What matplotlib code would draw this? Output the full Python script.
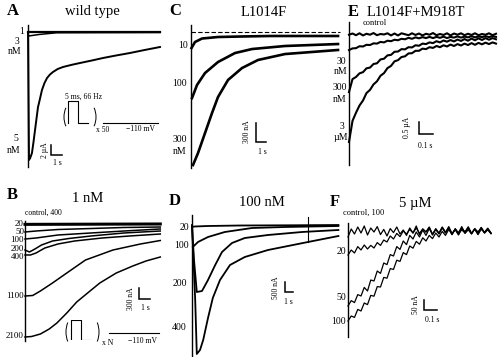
import numpy as np
import matplotlib
matplotlib.use("Agg")
import matplotlib.pyplot as plt
from matplotlib.patches import Arc

plt.rcParams['font.family'] = ['Liberation Serif', 'DejaVu Serif']

# ---------------- data (time in s, current in uA / nA) ----------------
# Panel A: wild type (uA)
a_t_1 = [0, 12.0]
a_i_1 = [0, 0]
a_t_3 = [0, 0.05, 1.0, 2.6, 12.0]
a_i_3 = [0, -0.8, -0.5, -0.15, -0.1]
a_t_5 = [0, 0.09, 0.2, 0.36, 0.5, 0.64, 0.78, 0.91, 1.0, 1.27, 1.5, 1.73, 2.0, 2.27,
         2.7, 3.18, 4.0, 4.73, 5.8, 6.82, 8.0, 9.27, 10.6, 12.0]
a_i_5 = [0, -25.6, -25.2, -24.2, -22.0, -19.6, -17.2, -15.0, -14.2, -11.6, -10.2, -9.2,
         -8.5, -8.0, -7.4, -7.0, -6.55, -6.2, -5.7, -5.2, -4.7, -4.2, -3.6, -3.0]

# Panel B: 1 nM, number of pulses (nA)
b_t_20 = [0, 12.3]
b_i_20 = [-10, 0]
b_t_50 = [0, 1, 3, 6, 9, 12.3]
b_i_50 = [-218, -191, -150, -123, -95, -82]
b_t_100 = [0, 1, 3, 6, 9, 12.3]
b_i_100 = [-409, -382, -300, -245, -191, -136]
b_t_200 = [0, 0.4, 0.9, 1.5, 2.5, 4, 6, 9, 12.3]
b_i_200 = [-709, -764, -682, -573, -464, -395, -327, -245, -191]
b_t_400 = [0, 0.5, 1.0, 1.8, 3, 4.5, 7, 9.5, 12.3]
b_i_400 = [-845, -845, -791, -655, -545, -464, -382, -327, -273]
b_t_1100 = [0, 0.7, 1.4, 2.5, 3.8, 5.5, 8, 10.5, 12.3]
b_i_1100 = [-1964, -1950, -1827, -1609, -1336, -982, -709, -545, -450]
b_t_2100 = [0, 0.6, 1.4, 2.2, 2.9, 3.8, 4.7, 5.8, 6.8, 8.3, 9.8, 11, 12.3]
b_i_2100 = [-3082, -3068, -3000, -2864, -2700, -2427, -2127, -1855, -1609, -1336,
            -1145, -1009, -900]

# Panel C: L1014F (nA)
c_t_10 = [0.05, 0.4, 1.1, 2.7, 5, 8, 11, 14.7]
c_i_10 = [-253, -158, -103, -79, -71, -63, -63, -63]
c_t_100 = [0.1, 0.6, 1.4, 2.7, 4.4, 6.1, 9.4, 14.7]
c_i_100 = [-1043, -837, -648, -474, -332, -269, -221, -190]
c_t_300 = [0.2, 0.7, 1.4, 2.1, 2.7, 3.7, 5.1, 6.7, 9.4, 14.7]
c_i_300 = [-2101, -1912, -1596, -1280, -1027, -758, -569, -442, -348, -284]

# Panel D: 100 nM (nA)
d_t_20 = [0, 0.3, 2, 6, 12, 18.3]
d_i_20 = [-100, -75, -50, -25, -15, 0]
d_t_100 = [0.1, 0.75, 2, 4.1, 7.5, 11.6, 18.3]
d_i_100 = [-1100, -850, -600, -350, -150, -100, -50]
d_t_200 = [0, 0.25, 0.6, 1.25, 2, 2.9, 3.75, 5, 6.6, 9.5, 13.75, 18.3]
d_i_200 = [-50, -1750, -3350, -3300, -2750, -2000, -1350, -900, -650, -500, -350, -250]
d_t_400 = [0, 0.4, 0.6, 1.0, 1.4, 2.0, 2.6, 3.5, 4.75, 6.6, 9.5, 14.5, 18.3]
d_i_400 = [0, -3750, -6450, -6250, -5750, -4650, -3650, -2750, -2000, -1600, -1250,
           -850, -550]
d_marker_t = 14.5
d_marker_i = [400, -850]

# Panel E: L1014F+M918T (uA), sampled every 0.025 s
e_dt = 0.025
e_i_ctrl = [-0.03, 0.02, -0.05, 0.03, -0.06, 0.01, -0.03, 0.04, -0.05, 0.0, -0.02, 0.03,
            -0.06, 0.02, -0.06, 0.03, -0.01, -0.05, 0.03, -0.04, 0.02, -0.06, 0.01, -0.03,
            0.04, -0.05, 0.0, -0.04, 0.03, -0.06, 0.02, -0.03, 0.03, -0.05, 0.01, -0.04,
            0.03, -0.05, 0.0, -0.03, 0.03, -0.05, 0.01]
e_i_30 = [-0.67, -0.6, -0.59, -0.51, -0.52, -0.45, -0.46, -0.39, -0.4, -0.33, -0.35,
          -0.28, -0.3, -0.24, -0.26, -0.2, -0.22, -0.16, -0.2, -0.14, -0.18, -0.13, -0.17,
          -0.12, -0.17, -0.12, -0.16, -0.11, -0.17, -0.12, -0.15, -0.1, -0.15, -0.11,
          -0.14, -0.09, -0.14, -0.1, -0.13, -0.09, -0.13, -0.09, -0.12]
e_i_300 = [-2.42, -1.88, -1.79, -1.64, -1.59, -1.43, -1.4, -1.25, -1.22, -1.06, -1.03,
           -0.89, -0.87, -0.74, -0.73, -0.63, -0.64, -0.55, -0.56, -0.47, -0.49, -0.4,
           -0.42, -0.35, -0.38, -0.3, -0.35, -0.27, -0.32, -0.25, -0.31, -0.23, -0.29,
           -0.21, -0.28, -0.19, -0.26, -0.18, -0.25, -0.17, -0.24, -0.17, -0.22]
e_i_3000 = [-4.5, -3.62, -3.28, -2.98, -2.77, -2.46, -2.33, -2.1, -1.97, -1.74, -1.63,
            -1.42, -1.33, -1.14, -1.09, -0.96, -0.93, -0.81, -0.8, -0.7, -0.7, -0.61,
            -0.63, -0.55, -0.58, -0.5, -0.55, -0.47, -0.52, -0.44, -0.5, -0.42, -0.48,
            -0.4, -0.46, -0.38, -0.45, -0.37, -0.43, -0.36, -0.42, -0.35, -0.4]

# Panel F: 5 uM (nA), sampled every 0.025 s
f_dt = 0.025
f_i_ctrl = [-30, 10, -15, 20, -10, 25, -20, 15, -5, 22, -18, 8, -25, 12, -8, 20, -15, 5,
            -22, 15, -10, 25, -18, 10, -5, 20, -20, 12, -12, 18, -8, 22, -15, 6, -20, 14,
            -6, 20, -14, 10, -18, 16, -8, 12, -10]
f_i_20 = [-120, -95, -110, -78, -95, -70, -90, -72, -85, -58, -72, -45, -55, -25, -40, -12,
          -28, 0, -15, 8, -10, 15, -12, 10, -5, 18, -15, 8, -10, 20, -6, 15, -18, 10, -8,
          22, -12, 6, -15, 12, -5, 18, -10, 8, -12]
f_i_50 = [-375, -348, -358, -318, -325, -282, -300, -245, -250, -200, -212, -160, -168,
          -118, -125, -78, -92, -50, -68, -22, -40, -5, -30, 5, -22, 12, -18, 8, -15, 15,
          -10, 18, -12, 8, -16, 14, -5, 20, -12, 10, -8, 16, -10, 6, -14]
f_i_100 = [-450, -425, -432, -392, -400, -360, -368, -322, -326, -278, -280, -232, -236,
           -188, -192, -146, -152, -108, -118, -75, -86, -52, -66, -34, -50, -22, -38, -10,
           -30, -2, -22, 8, -18, 12, -15, 6, -10, 16, -12, 10, -16, 8, -6, 14, -10]

# stimulus schematic (ms, mV)
pulse_t = [0, 0, 5, 5, 10]
pulse_v = [-110, -10, -10, -110, -110]
hold_t = [17.5, 45]

# ---------------- figure ----------------
W, H = 500, 357
fig = plt.figure(figsize=(5.0, 3.57), dpi=100)
fig.patch.set_facecolor('white')


def panel(rect, x0, px_t, y0, px_i):
    l, t, r, b = rect
    ax = fig.add_axes([l / W, 1 - b / H, (r - l) / W, (b - t) / H])
    ax.set_xlim((l - x0) / px_t, (r - x0) / px_t)
    ax.set_ylim(-(b - y0) / px_i, -(t - y0) / px_i)
    ax.axis('off')
    ax.p2d = lambda x, y: ((x - x0) / px_t, -(y - y0) / px_i)
    return ax


def T(x, y, s, size=7, ha='center', va='center', **kw):
    fig.text(x / W, 1 - y / H, s, fontsize=size, ha=ha, va=va, **kw)


def paren(xc, yc, hw, hh, left=True):
    th = (115, 245) if left else (-65, 65)
    fig.add_artist(Arc((xc / W, 1 - yc / H), 2 * hw / W, 2 * hh / H, theta1=th[0],
                       theta2=th[1], transform=fig.transFigure, color='black', lw=0.7))


def vaxis(ax, ytop, ybot):
    _, i1 = ax.p2d(0, ytop)
    _, i2 = ax.p2d(0, ybot)
    ax.plot([0, 0], [i1, i2], color='black', lw=1.0)


def scalebar(ax, cx, cy, dt, di, lab_v, lab_h, vx, vy, hx, hy):
    t0, i0 = ax.p2d(cx, cy)
    ax.plot([t0, t0, t0 + dt], [i0 + di, i0, i0], color='black', lw=1.1,
            solid_joinstyle='miter')
    T(vx, vy, lab_v, size=5.5, rotation=90)
    T(hx, hy, lab_h, size=5.5)


K = dict(color='black', lw=1.1)

# ---- Panel A ----
axA = panel((22, 20, 165, 170), 28, 11, 32, 5)
vaxis(axA, 25, 167)
axA.plot(a_t_1, a_i_1, color='black', lw=1.6)
axA.plot(a_t_3, a_i_3, **K)
axA.plot(a_t_5, a_i_5, color='black', lw=1.4)
scalebar(axA, 51, 155, 1, 2, '2 µA', '1 s', 45, 150, 57, 163)
T(13, 11, 'A', size=12, weight='bold')
T(92, 11, 'wild type', size=10.5)
T(24, 31, '1', ha='right')
T(17, 41, '3')
T(15, 52, 'nM')
T(16, 139, '5')
T(14, 150, 'nM')
axAi = fig.add_axes([66 / W, 1 - 126 / H, (160 - 66) / W, (126 - 100) / H])
axAi.set_xlim(-1, 46)
axAi.set_ylim(-122, -4)
axAi.axis('off')
axAi.plot(pulse_t, pulse_v, color='black', lw=0.8)
axAi.plot(hold_t, [-110, -110], color='black', lw=0.8)
T(84, 97, '5 ms, 66 Hz', size=5.5)
paren(72, 117, 8, 14, True)
paren(88, 117, 8, 14, False)
T(103, 130, 'x 50', size=5.5)
T(141, 129, '\u2212110 mV', size=5.5)

# ---- Panel B ----
axB = panel((20, 212, 165, 345), 25, 11, 224, 11 / 300)
vaxis(axB, 221, 341)
axB.plot(b_t_20, b_i_20, color='black', lw=2.2)
for tt, ii in [(b_t_50, b_i_50), (b_t_100, b_i_100), (b_t_200, b_i_200),
               (b_t_400, b_i_400), (b_t_1100, b_i_1100), (b_t_2100, b_i_2100)]:
    axB.plot(tt, ii, **K)
scalebar(axB, 139, 299, 1, 300, '300 nA', '1 s', 131, 299, 145, 308)
T(12, 195, 'B', size=12, weight='bold')
T(88, 198, '1 nM', size=10.5)
T(25, 213, 'control, 400', size=5.5, ha='left')
for lab, yy in [('20', 224), ('50', 232), ('100', 240), ('200', 249), ('400', 257),
                ('1100', 296), ('2100', 336)]:
    T(24, yy, lab, size=6.5, ha='right')
axBi = fig.add_axes([69 / W, 1 - 340 / H, (161 - 69) / W, (340 - 320) / H])
axBi.set_xlim(-1, 46)
axBi.set_ylim(-112, -8)
axBi.axis('off')
axBi.plot(pulse_t, pulse_v, color='black', lw=0.8)
axBi.plot([19.5, 45], [-76, -76], color='black', lw=0.8)
paren(74, 332, 8, 15, True)
paren(91, 332, 8, 15, False)
T(108, 343, 'x N', size=5.5)
T(142, 341, '\u2212110 mV', size=5.5)

# ---- Panel C ----
axC = panel((186, 20, 345, 172), 191, 10, 32, 19 / 300)
vaxis(axC, 25, 168)
axC.plot([0, 14.9], [0, 0], color='black', lw=0.8, ls=(0, (4, 2)))
for tt, ii in [(c_t_10, c_i_10), (c_t_100, c_i_100), (c_t_300, c_i_300)]:
    axC.plot(tt, ii, color='black', lw=1.9)
scalebar(axC, 256, 142, 1, 300, '300 nA', '1 s', 247, 132, 262, 152)
T(175, 11, 'C', size=12, weight='bold')
T(264, 12, 'L1014F', size=10.5)
T(188, 46, '10', ha='right')
T(187, 83, '100', ha='right')
T(180, 140, '300')
T(180, 151, 'nM')

# ---- Panel D ----
axD = panel((186, 210, 345, 357), 192, 8, 225, 10 / 500)
vaxis(axD, 215, 357)
for tt, ii in [(d_t_20, d_i_20), (d_t_100, d_i_100), (d_t_200, d_i_200), (d_t_400, d_i_400)]:
    axD.plot(tt, ii, color='black', lw=1.3)
axD.plot([d_marker_t, d_marker_t], d_marker_i, color='black', lw=0.8)
scalebar(axD, 285, 292, 1, 500, '500 nA', '1 s', 276, 288, 288, 302)
T(175, 201, 'D', size=12, weight='bold')
T(262, 202, '100 nM', size=10.5)
T(189, 227, '20', ha='right')
T(189, 246, '100', ha='right')
T(187, 284, '200', ha='right')
T(186, 327, '400', ha='right')

# ---- Panel E ----
axE = panel((346, 18, 500, 170), 349, 140, 34, 24)
vaxis(axE, 22, 165)
for ii in [e_i_ctrl, e_i_30, e_i_300, e_i_3000]:
    tt = np.arange(len(ii)) * e_dt
    axE.plot(tt, ii, color='black', lw=1.5)
scalebar(axE, 419, 134, 0.1, 0.5, '0.5 µA', '0.1 s', 407, 127, 425, 146)
T(353, 12, 'E', size=12, weight='bold')
T(416, 12, 'L1014F+M918T', size=10.5)
T(375, 23, 'control', size=6)
T(341, 62, '30')
T(341, 72, 'nM')
T(340, 88, '300')
T(340, 100, 'nM')
T(342, 126, '3')
T(341, 137, 'µM')

# ---- Panel F ----
axF = panel((345, 215, 500, 345), 348, 130, 231, 0.2)
vaxis(axF, 223, 337)
for ii in [f_i_ctrl, f_i_20, f_i_50, f_i_100]:
    tt = np.arange(len(ii)) * f_dt
    axF.plot(tt, ii, color='black', lw=0.9)
scalebar(axF, 424, 310, 0.1, 50, '50 nA', '0.1 s', 416, 305, 432, 320)
T(335, 202, 'F', size=12, weight='bold')
T(415, 203, '5 µM', size=10.5)
T(343, 213, 'control, 100', size=6, ha='left')
T(346, 252, '20', ha='right')
T(346, 298, '50', ha='right')
T(346, 321, '100', ha='right')

fig.savefig('out.png', dpi=100, facecolor='white')
